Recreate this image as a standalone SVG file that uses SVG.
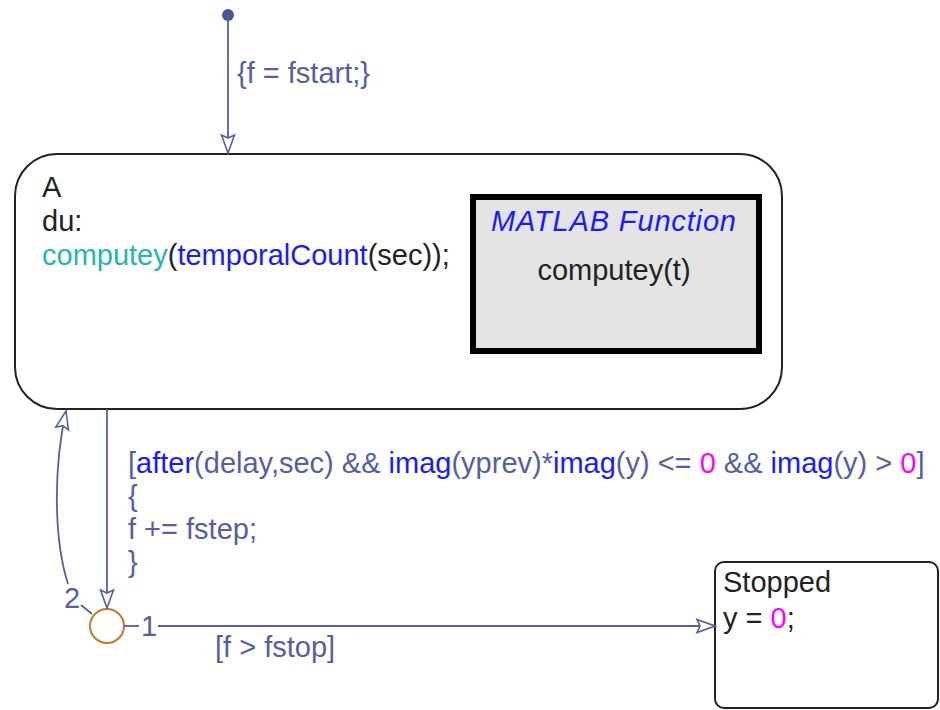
<svg xmlns="http://www.w3.org/2000/svg" width="940" height="710" viewBox="0 0 940 710">
<style>
text{font-family:"Liberation Sans",Arial,sans-serif;font-size:29px}
.st{fill:none;stroke:#222;stroke-width:2}
.tr{fill:none;stroke:#5560a2;stroke-width:1.8}
.tl{fill:#5560a2}
.bk{fill:#222}
.kw{fill:#1a1aff}
.fn{fill:#28b4b4}
.num{fill:#ff00ff}
</style>
<defs>
<marker id="arr" markerUnits="userSpaceOnUse" markerWidth="22" markerHeight="16" viewBox="0 0 22 16" refX="20" refY="8" orient="auto">
<polygon points="2,1.5 20,8 2,14.5 5,8" fill="#fff" stroke="#5560a2" stroke-width="1.6"/>
</marker>
</defs>
<rect width="940" height="710" fill="#fff"/>

<g id="stateA">
<rect class="st" x="15" y="154" width="767" height="255" rx="42" ry="42" fill="#fff"/>
<text class="bk" x="42" y="197">A</text>
<text class="bk" x="42" y="231">du:</text>
<text x="42" y="265"><tspan class="fn">computey</tspan><tspan class="bk">(</tspan><tspan class="kw">temporalCount</tspan><tspan class="bk">(sec));</tspan></text>
</g>

<g id="matlabFunction">
<rect x="473" y="197" width="286" height="154" fill="#e4e4e4" stroke="#000" stroke-width="6"/>
<text class="kw" x="491" y="231" font-style="italic" textLength="245" lengthAdjust="spacing">MATLAB Function</text>
<text class="bk" x="614" y="280" text-anchor="middle">computey(t)</text>
</g>

<g id="stateStopped">
<rect class="st" x="715" y="562" width="223" height="146" rx="9" ry="9" fill="#fff"/>
<text class="bk" x="723" y="592">Stopped</text>
<text x="723" y="628"><tspan class="bk">y = </tspan><tspan class="num">0</tspan><tspan class="bk">;</tspan></text>
</g>

<g id="junction">
<circle cx="107" cy="626" r="17" fill="#fff" stroke="#c8782a" stroke-width="2"/>
</g>

<g id="connectors">
<circle cx="228" cy="15" r="6" fill="#4a5598"/>
<path class="tr" d="M228 15 L228 153" marker-end="url(#arr)"/>
<text class="tl" x="237" y="83">{f = fstart;}</text>

<path class="tr" d="M107 409 L107 608" marker-end="url(#arr)"/>
<text class="tl" x="128" y="473"><tspan>[</tspan><tspan class="kw">after</tspan><tspan>(delay,sec) &amp;&amp; </tspan><tspan class="kw">imag</tspan><tspan>(yprev)*</tspan><tspan class="kw">imag</tspan><tspan>(y) &lt;= </tspan><tspan class="num">0</tspan><tspan> &amp;&amp; </tspan><tspan class="kw">imag</tspan><tspan>(y) &gt; </tspan><tspan class="num">0</tspan><tspan>]</tspan></text>
<text class="tl" x="128" y="506">{</text>
<text class="tl" x="128" y="539">f += fstep;</text>
<text class="tl" x="128" y="572">}</text>

<path class="tr" d="M92 614 L81 605"/>
<path class="tr" d="M68 584 C54 540 53 470 66 411" marker-end="url(#arr)"/>
<text class="tl" x="64" y="608">2</text>

<path class="tr" d="M124 626 L139 626"/>
<path class="tr" d="M158 626 L715 626" marker-end="url(#arr)"/>
<text class="tl" x="141" y="636">1</text>
<text class="tl" x="215" y="657">[f &gt; fstop]</text>
</g>
</svg>
